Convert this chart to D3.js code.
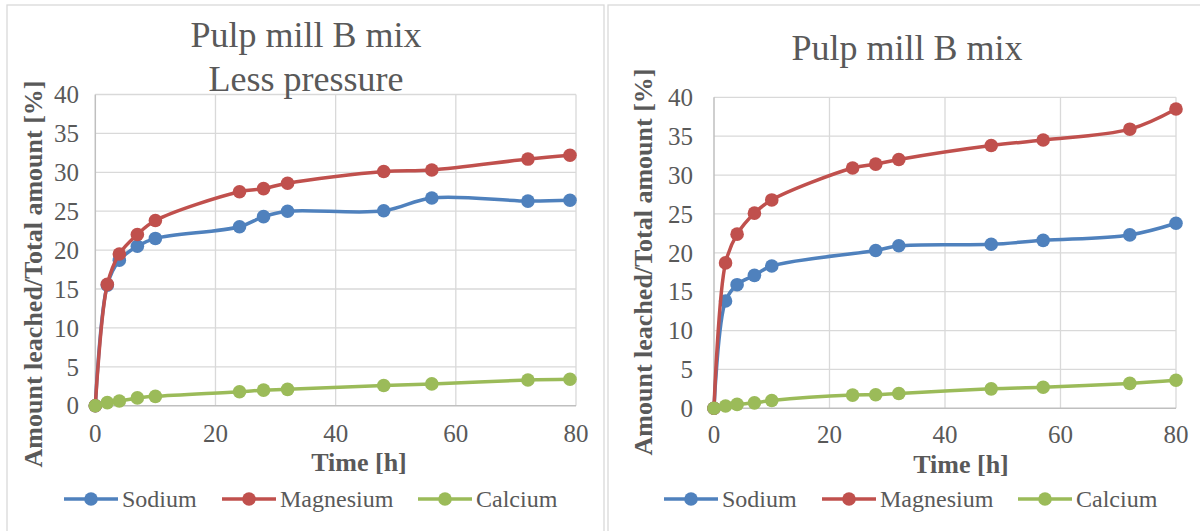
<!DOCTYPE html>
<html>
<head>
<meta charset="utf-8">
<script src="https://cdn.jsdelivr.net/npm/d3@7"></script>
<style>
  html, body { margin: 0; padding: 0; background: #ffffff; }
  svg { display: block; }
  text { font-family: "Liberation Serif", "Times New Roman", Tinos, "DejaVu Serif", serif; fill: #595959; }
</style>
</head>
<body>
<svg id="chart" width="1200" height="531"></svg>
<script>
// Leaching time points [h] and leached fractions [%]
const timesLess = [0, 2, 4, 7, 10, 24, 28, 32, 48, 56, 72, 79];
const sodiumLess = [0, 15.5, 18.7, 20.5, 21.5, 23.0, 24.3, 25.0, 25.05, 26.7, 26.3, 26.4];
const magnesiumLess = [0, 15.6, 19.5, 22.0, 23.8, 27.5, 27.9, 28.6, 30.1, 30.3, 31.7, 32.2];
const calciumLess = [0, 0.4, 0.6, 1.0, 1.2, 1.8, 2.0, 2.1, 2.6, 2.8, 3.3, 3.4];

const timesStd = [0, 2, 4, 7, 10, 24, 28, 32, 48, 57, 72, 80];
const sodiumStd = [0, 13.8, 15.9, 17.1, 18.3, null, 20.3, 20.9, 21.1, 21.6, 22.3, 23.8];
const magnesiumStd = [0, 18.7, 22.4, 25.1, 26.8, 30.9, 31.4, 32.0, 33.8, 34.5, 35.9, 38.5];
const calciumStd = [0, 0.3, 0.5, 0.7, 1.0, 1.7, 1.75, 1.9, 2.5, 2.7, 3.2, 3.6];

const seriesNames = ["Sodium", "Magnesium", "Calcium"];
const seriesColors = ["#4f81bd", "#c0504d", "#9bbb59"];
const xTicks = [0, 20, 40, 60, 80];
const yTicks = [0, 5, 10, 15, 20, 25, 30, 35, 40];
const xTitle = "Time [h]";
const yTitle = "Amount leached/Total amount [%]";

const svg = d3.select("#chart");

function drawPanel(cfg) {
  const g = svg.append("g");

  // chart frame
  g.append("rect")
    .attr("x", cfg.frame[0]).attr("y", cfg.frame[1])
    .attr("width", cfg.frame[2]).attr("height", cfg.frame[3])
    .attr("fill", "#fff").attr("stroke", "#d9d9d9").attr("stroke-width", 1.3);

  const x = d3.scaleLinear().domain([0, 80]).range([cfg.plot.left, cfg.plot.right]);
  const y = d3.scaleLinear().domain([0, 40]).range([cfg.plot.bottom, cfg.plot.top]);

  // gridlines
  g.append("g").selectAll("line").data(yTicks.filter(v => v > 0)).join("line")
    .attr("x1", x(0)).attr("x2", x(80))
    .attr("y1", d => y(d)).attr("y2", d => y(d))
    .attr("stroke", "#d9d9d9").attr("stroke-width", 1.3);
  g.append("g").selectAll("line").data(xTicks.filter(v => v > 0)).join("line")
    .attr("x1", d => x(d)).attr("x2", d => x(d))
    .attr("y1", y(0)).attr("y2", y(40))
    .attr("stroke", "#d9d9d9").attr("stroke-width", 1.3);

  // axis lines
  g.append("line").attr("x1", x(0)).attr("x2", x(80)).attr("y1", y(0)).attr("y2", y(0))
    .attr("stroke", "#bfbfbf").attr("stroke-width", 1.5);
  g.append("line").attr("x1", x(0)).attr("x2", x(0)).attr("y1", y(0)).attr("y2", y(40))
    .attr("stroke", "#bfbfbf").attr("stroke-width", 1.5);

  // tick labels
  g.append("g").selectAll("text").data(yTicks).join("text")
    .attr("x", cfg.yLabelRight).attr("y", d => y(d))
    .attr("dy", "0.35em").attr("text-anchor", "end")
    .style("font-size", "25px").text(d => d);
  g.append("g").selectAll("text").data(xTicks).join("text")
    .attr("x", d => x(d)).attr("y", cfg.xLabelBase)
    .attr("text-anchor", "middle")
    .style("font-size", "25px").text(d => d);

  // axis titles
  g.append("text").attr("x", cfg.xTitlePos[0]).attr("y", cfg.xTitlePos[1])
    .attr("text-anchor", "middle").style("font-size", "26px").style("font-weight", "bold")
    .text(xTitle);
  g.append("text")
    .attr("transform", `translate(${cfg.yTitlePos[0]},${cfg.yTitlePos[1]}) rotate(-90)`)
    .attr("text-anchor", "middle").attr("dy", "0.35em")
    .style("font-size", "26px").style("font-weight", "bold")
    .text(yTitle);

  // chart title
  g.append("g").selectAll("text").data(cfg.title).join("text")
    .attr("x", cfg.titleX).attr("y", (d, i) => cfg.titleBase[i])
    .attr("text-anchor", "middle").style("font-size", "36px")
    .text(d => d);

  // series: smoothed line with circular markers
  const line = d3.line()
    .x(d => x(d[0])).y(d => y(d[1]))
    .curve(d3.curveCatmullRom.alpha(0.5));

  cfg.series.forEach((vals, si) => {
    const pts = cfg.times.map((t, i) => [t, vals[i]]).filter(p => p[1] !== null);
    const sg = g.append("g");
    sg.append("path").datum(pts)
      .attr("d", line).attr("fill", "none")
      .attr("stroke", seriesColors[si]).attr("stroke-width", 3.5)
      .attr("stroke-linejoin", "round").attr("stroke-linecap", "round");
    sg.selectAll("circle").data(pts).join("circle")
      .attr("cx", d => x(d[0])).attr("cy", d => y(d[1])).attr("r", 6.8)
      .attr("fill", seriesColors[si]);
  });

  // legend
  const lg = g.append("g");
  seriesNames.forEach((name, i) => {
    const cx = cfg.legendX[i];
    const cy = cfg.legendY;
    lg.append("line").attr("x1", cx - 27).attr("x2", cx + 27).attr("y1", cy).attr("y2", cy)
      .attr("stroke", seriesColors[i]).attr("stroke-width", 3.5);
    lg.append("circle").attr("cx", cx).attr("cy", cy).attr("r", 6.8).attr("fill", seriesColors[i]);
    lg.append("text").attr("x", cx + 31).attr("y", cy).attr("dy", "0.35em")
      .style("font-size", "24px").text(name);
  });
}

drawPanel({
  frame: [7, 5, 597, 540],
  plot: { left: 95.3, right: 576, top: 94.5, bottom: 405.7 },
  yLabelRight: 79,
  xLabelBase: 442,
  xTitlePos: [359, 471],
  yTitlePos: [33, 274],
  title: ["Pulp mill B mix", "Less pressure"],
  titleX: 306,
  titleBase: [47, 91],
  times: timesLess,
  series: [sodiumLess, magnesiumLess, calciumLess],
  legendX: [91, 249, 445],
  legendY: 499
});

drawPanel({
  frame: [608, 5, 600, 540],
  plot: { left: 714, right: 1176, top: 97.3, bottom: 408.3 },
  yLabelRight: 693,
  xLabelBase: 443,
  xTitlePos: [961, 473],
  yTitlePos: [643, 262],
  title: ["Pulp mill B mix"],
  titleX: 907,
  titleBase: [60],
  times: timesStd,
  series: [sodiumStd, magnesiumStd, calciumStd],
  legendX: [691, 849, 1045],
  legendY: 499
});
</script>
</body>
</html>
